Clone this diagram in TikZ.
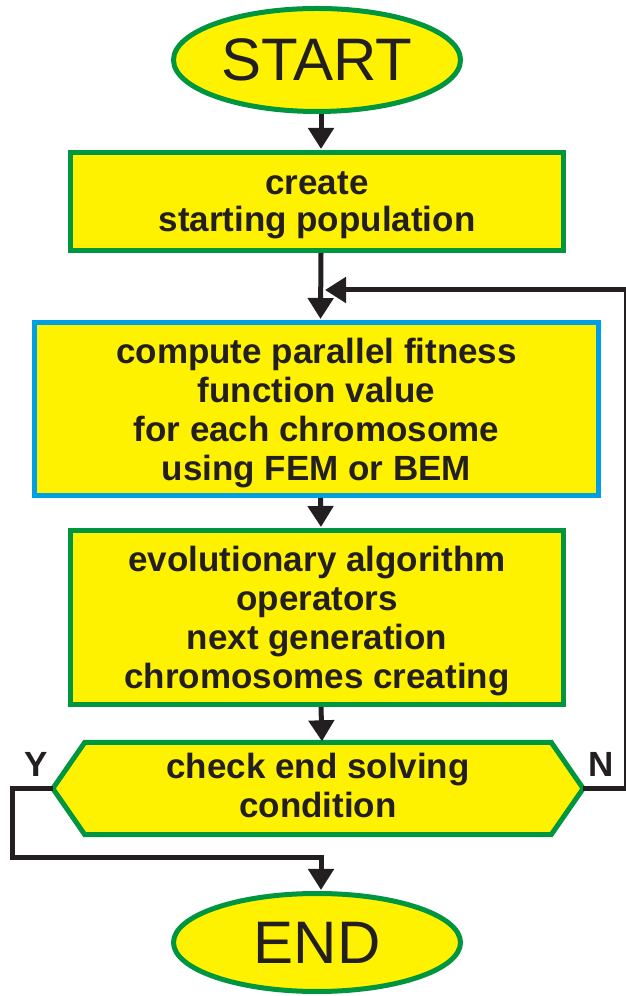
\documentclass[tikz,border=0pt]{standalone}
\usepackage{fontspec}
\setmainfont{Liberation Sans}
\usetikzlibrary{arrows.meta,shapes.geometric,backgrounds}
\definecolor{boxfill}{RGB}{255,242,0}
\definecolor{boxgreen}{RGB}{0,150,64}
\definecolor{boxblue}{RGB}{0,159,227}
\definecolor{ink}{RGB}{35,31,32}
% invisible struts that fix the height of the first line and the depth of the last
\newcommand{\leadstrut}[1]{\rule{0pt}{#1}}
\newcommand{\tailstrut}[1]{\rule[-#1]{0pt}{0pt}}
\begin{document}
\begin{tikzpicture}[x=1pt,y=1pt,
  every node/.style={text=ink, inner sep=0pt},
  term/.style={ellipse, draw=boxgreen, fill=boxfill, line width=5pt,
    minimum width=287pt, font=\fontsize{60}{72}\selectfont},
  proc/.style={rectangle, draw=boxgreen, fill=boxfill, line width=5pt,
    align=center, font=\fontsize{35}{39}\selectfont\bfseries},
  parproc/.style={proc, draw=boxblue},
  decision/.style={align=center, font=\fontsize{35}{39}\selectfont\bfseries},
  hexline/.style={draw=boxgreen, fill=boxfill, line width=5pt},
  arr/.style={draw=ink, line width=5pt, shorten >=1pt,
    -{Triangle[length=21pt,width=25pt]}},
  lbl/.style={font=\fontsize{35}{39}\selectfont\bfseries}
]
\useasboundingbox (0,0) rectangle (625,996);

% terminals and process blocks
\node[term, minimum height=103pt] (start) at (317,936) {START};
\node[proc, minimum width=493pt, minimum height=98pt,
  font=\fontsize{35}{37}\selectfont\bfseries] (create) at (317,794.5)
  {\leadstrut{31pt}create\\starting population\tailstrut{8pt}};
\node[parproc, minimum width=564pt, minimum height=173pt] (fitness) at (316.5,587)
  {\leadstrut{33.5pt}compute parallel fitness\\function value\\for each chromosome\\using FEM or BEM\tailstrut{8pt}};
\node[proc, minimum width=493pt, minimum height=174pt] (evolve) at (317,378.5)
  {\leadstrut{32.5pt}evolutionary algorithm\\operators\\next generation\\chromosomes creating\tailstrut{8pt}};
\node[decision, minimum width=530pt, minimum height=92pt] (check) at (318,207.5)
  {\leadstrut{29.5pt}check end solving\\condition\tailstrut{10pt}};
\node[term, minimum height=98pt] (end) at (317,53.5) {END};

% hexagonal decision outline behind its text
\begin{scope}[on background layer]
  \path[hexline] (check.west) -- ([xshift=32pt]check.north west)
    -- ([xshift=-32pt]check.north east) -- (check.east)
    -- ([xshift=-32pt]check.south east) -- ([xshift=32pt]check.south west)
    -- cycle;
\end{scope}

% branch labels
\node[lbl] (ylab) at (36,232) {Y};
\node[lbl] (nlab) at (601,232) {N};

% routing points
\coordinate (join) at (324,706);
\coordinate (nright) at (626,706);
\coordinate (yleft) at (12,138);

% main flow
\draw[arr] ([xshift=4pt]start.south) -- ([xshift=4pt]create.north);
\draw[arr] ([xshift=4pt]create.south) -- ([xshift=4pt]fitness.north);
\draw[arr] ([xshift=4pt]fitness.south) -- ([xshift=4pt]evolve.north);
\draw[arr] ([xshift=4pt]evolve.south) -- ([xshift=4pt]check.north);

% Y: finish
\draw[arr] (check.west) -| (yleft) -| ([xshift=4pt]end.north);

% N: loop back
\draw[arr] (check.east) -| (nright) -- (join);
\end{tikzpicture}
\end{document}
